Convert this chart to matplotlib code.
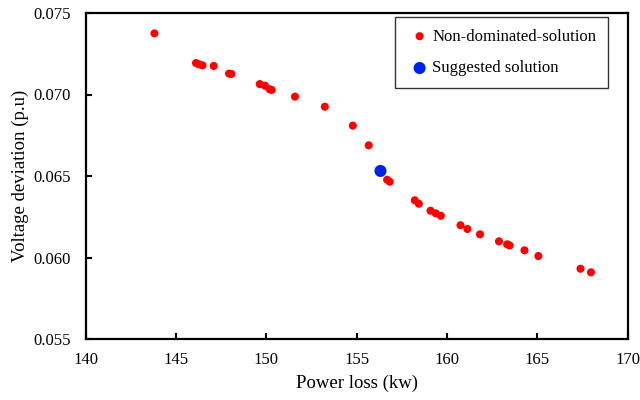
import numpy as np
import matplotlib.pyplot as plt

# Pareto front: power loss (kW) vs voltage deviation (p.u)
power_loss = [143.8, 146.1, 146.27, 146.46, 147.08, 147.93, 148.06, 149.63, 149.92,
              150.18, 150.29, 151.58, 153.23, 154.78, 155.66, 156.68, 156.82, 158.21,
              158.43, 159.08, 159.37, 159.65, 160.74, 161.12, 161.82, 162.87, 163.32,
              163.46, 164.28, 165.05, 167.38, 167.96]
voltage_dev = [0.07375, 0.07193, 0.07185, 0.07179, 0.07175, 0.07128, 0.07126, 0.07064,
               0.07054, 0.07032, 0.07028, 0.06987, 0.06925, 0.06809, 0.06688, 0.06477,
               0.06465, 0.06351, 0.06330, 0.06287, 0.06271, 0.06256, 0.06198, 0.06175,
               0.06142, 0.06099, 0.06081, 0.06074, 0.06044, 0.06009, 0.05931, 0.05909]

# chosen compromise point
best_loss = [156.31]
best_dev = [0.06531]

xticks = [140, 145, 150, 155, 160, 165, 170]
yticks = [0.055, 0.060, 0.065, 0.070, 0.075]

plt.rcParams['font.family'] = ['Liberation Serif', 'DejaVu Serif']

fig = plt.figure(figsize=(6.4, 4.0), dpi=100)
ax = fig.add_axes([0.134, 0.1525, 0.847, 0.815])

ax.scatter(power_loss, voltage_dev, s=34, color='#ff0000', edgecolors='none',
           label='Non-dominated-solution', zorder=3)
ax.scatter(best_loss, best_dev, s=76, color='#0022ee', edgecolors='none',
           label='Suggested solution', zorder=4)

ax.set_xlim(140, 170)
ax.set_ylim(0.055, 0.075)
ax.set_xticks(xticks)
ax.set_yticks(yticks)
ax.set_xticklabels([str(t) for t in xticks])
ax.set_yticklabels(['%.3f' % t for t in yticks])
ax.tick_params(direction='in', length=4, width=1.5, labelsize=12, colors='black')
ax.tick_params(axis='x', pad=9)
ax.tick_params(axis='y', pad=11)

for sp in ax.spines.values():
    sp.set_linewidth(1.6)
    sp.set_color('black')

ax.set_xlabel('Power loss (kw)', fontsize=13.5, labelpad=5)
ax.set_ylabel('Voltage deviation (p.u)', fontsize=13.5, labelpad=3)

leg = ax.legend(loc='upper right', bbox_to_anchor=(0.963, 0.988), borderaxespad=0,
                fontsize=12, frameon=True, fancybox=False, edgecolor='black',
                handletextpad=0.0, borderpad=0.7, labelspacing=0.95, handlelength=1.5)
leg.get_frame().set_linewidth(1.0)

fig.savefig('out.png', dpi=100)
